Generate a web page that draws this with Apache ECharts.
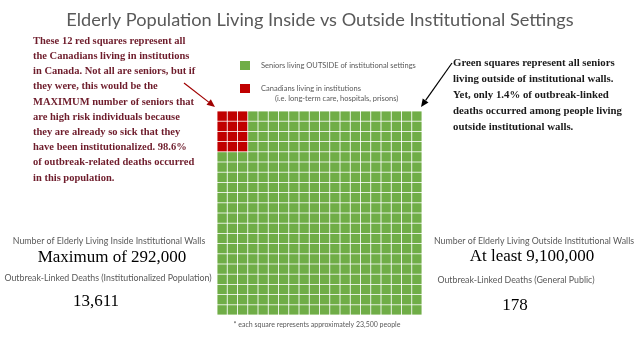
<!DOCTYPE html>
<html><head><meta charset="utf-8">
<script src="https://cdn.jsdelivr.net/npm/echarts@6/dist/echarts.min.js"></script>
<style>html,body{margin:0;padding:0;background:#fff}#c{width:640px;height:345px}</style>
</head><body><div id="c"></div>
<script>
// ---- data ----
const groups = ["Seniors living OUTSIDE of institutional settings", "Canadians living in institutions"];
const groupNote = "(i.e. long-term care, hospitals, prisons)";
const squareCounts = [388, 12];          // green, red
const groupColors = ["#70AD47", "#C00000"];
const peoplePerSquare = "23,500";
const statLabels = ["Number of Elderly Living Inside Institutional Walls", "Outbreak-Linked Deaths (Institutionalized Population)",
                    "Number of Elderly Living Outside Institutional Walls", "Outbreak-Linked Deaths (General Public)"];
const statValues = ["Maximum of 292,000", "13,611", "At least 9,100,000", "178"];
const titleText = "Elderly Population Living Inside vs Outside Institutional Settings";
const leftNote = ["These 12 red squares represent all", "the Canadians living in institutions", "in Canada. Not all are seniors, but if",
  "they were, this would be the", "MAXIMUM number of seniors that", "are high risk individuals because",
  "they are already so sick that they", "have been institutionalized. 98.6%", "of outbreak-related deaths occurred", "in this population."];
const rightNote = ["Green squares represent all seniors", "living outside of institutional walls.", "Yet, only 1.4% of outbreak-linked",
  "deaths occurred among people living", "outside institutional walls."];

// ---- waffle layout ----
const nCols = 20, nRows = 20, redBlockWidth = 3;
const cols = Array.from({length: nCols}, (_, i) => String(i));
const rows = Array.from({length: nRows}, (_, i) => String(i));
const redCells = [], greenCells = [];
for (let k = 0; k < squareCounts[1]; k++) redCells.push([k % redBlockWidth, Math.floor(k / redBlockWidth)]);
const isRed = {};
redCells.forEach(c => isRed[c[0] + ',' + c[1]] = true);
for (let r = 0; r < nRows; r++) for (let c = 0; c < nCols; c++) if (!isRed[c + ',' + r]) greenCells.push([c, r]);

const chart = echarts.init(document.getElementById('c'));
const sans = 'Lato, "Open Sans", sans-serif';
const serif = '"Liberation Serif", serif';
function txt(text, x, y, font, fill, align, lh) {
  return {type: 'text', style: {text: text, x: x, y: y, font: font, fill: fill, textAlign: align || 'left', textVerticalAlign: 'middle', verticalAlign: 'middle', lineHeight: lh}};
}
function arrow(x1, y1, x2, y2, color) {
  const a = Math.atan2(y2 - y1, x2 - x1), L = 8, W = 3.5;
  const bx = x2 - L * Math.cos(a), by = y2 - L * Math.sin(a);
  return [
    {type: 'line', shape: {x1: x1, y1: y1, x2: bx, y2: by}, style: {stroke: color, lineWidth: 1.2}},
    {type: 'polygon', shape: {points: [[x2, y2], [bx + W * Math.sin(a), by - W * Math.cos(a)], [bx - W * Math.sin(a), by + W * Math.cos(a)]]}, style: {fill: color}}
  ];
}
chart.setOption({
  animation: false,
  backgroundColor: '#fff',
  title: {text: titleText, left: 'center', top: 6, textStyle: {fontFamily: sans, fontWeight: 'normal', fontSize: 18.2, color: '#595959'}},
  legend: {orient: 'vertical', left: 240, top: 61, padding: 0, itemWidth: 10, itemHeight: 9, itemGap: 14, icon: 'rect',
    data: groups, textStyle: {fontFamily: sans, fontSize: 7.5, color: '#595959', padding: [0, 0, 0, 6]}},
  grid: {left: 217, top: 111, width: 205, height: 204},
  xAxis: {type: 'category', data: cols, show: false, boundaryGap: true},
  yAxis: {type: 'category', data: rows, show: false, inverse: true, boundaryGap: true},
  series: [
    {name: groups[0], type: 'scatter', symbol: 'rect', symbolSize: 9.4, data: greenCells, itemStyle: {color: groupColors[0], opacity: 1}},
    {name: groups[1], type: 'scatter', symbol: 'rect', symbolSize: 9.4, data: redCells, itemStyle: {color: groupColors[1], opacity: 1}}
  ],
  graphic: [].concat(
    [txt(groupNote, 275, 99, '7.5px ' + sans, '#595959')],
    [txt(leftNote.join('\n'), 33, 41 + 15.2 * 4.5, 'bold 10.5px ' + serif, '#6E1C2B', 'left', 15.2)],
    [txt(rightNote.join('\n'), 453, 63 + 16 * 2, 'bold 10.8px ' + serif, '#1a1a1a', 'left', 16)],
    arrow(184, 83, 215, 107, '#A00000'),
    arrow(452, 63, 421, 107, '#000'),
    [txt(statLabels[0], 109, 241, '8.8px ' + sans, '#595959', 'center'),
     txt(statValues[0], 112, 258, '17px ' + serif, '#000', 'center'),
     txt(statLabels[1], 108, 278, '8.8px ' + sans, '#595959', 'center'),
     txt(statValues[1], 96, 302, '17px ' + serif, '#000', 'center'),
     txt(statLabels[2], 534, 241, '8.8px ' + sans, '#595959', 'center'),
     txt(statValues[2], 532, 257, '17px ' + serif, '#000', 'center'),
     txt(statLabels[3], 516, 280, '8.8px ' + sans, '#595959', 'center'),
     txt(statValues[3], 515, 306, '17px ' + serif, '#000', 'center'),
     txt('* each square represents approximately ' + peoplePerSquare + ' people', 317, 325, '7px ' + sans, '#595959', 'center')]
  )
});
</script></body></html>
